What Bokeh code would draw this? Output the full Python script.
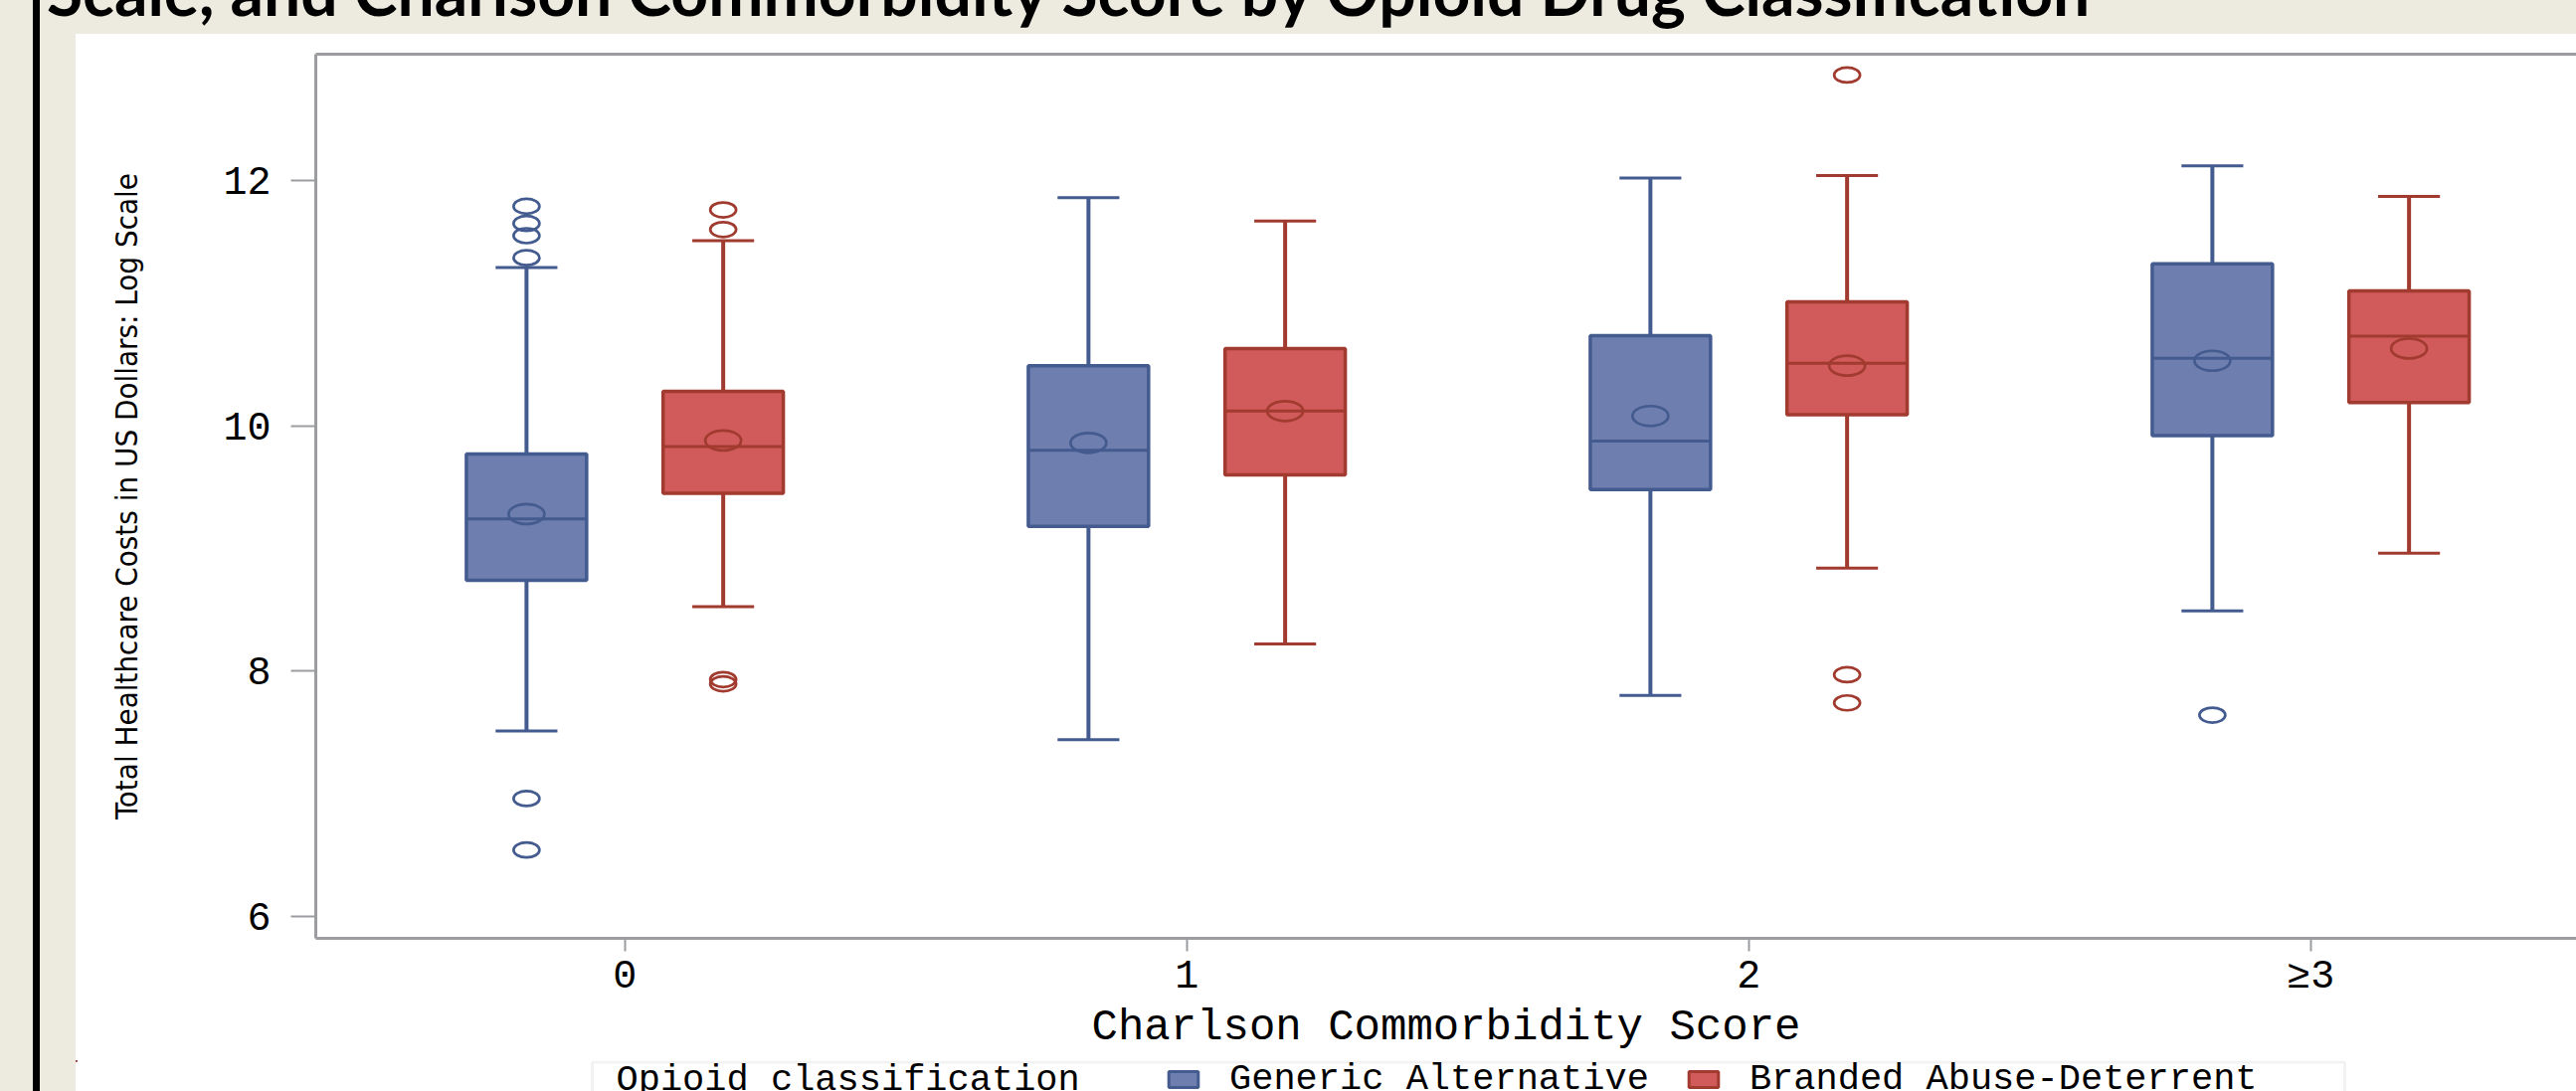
from bokeh.plotting import figure
from bokeh.layouts import column, row
from bokeh.models import (ColumnDataSource, Range1d, FixedTicker, LinearAxis,
                          BoxAnnotation, Label, Legend, LegendItem, Div)
from bokeh.transform import dodge
from bokeh.embed import file_html
from bokeh.resources import INLINE

# ---- data: log-scale total healthcare cost by Charlson score ----
categories = ["0", "1", "2", "≥3"]
series = ["Generic Alternative", "Branded Abuse-Deterrent"]

generic_low = [7.51, 7.44, 7.80, 8.49]
generic_q1 = [8.74, 9.18, 9.48, 9.92]
generic_median = [9.24, 9.80, 9.875, 10.55]
generic_q3 = [9.77, 10.49, 10.735, 11.32]
generic_high = [11.29, 11.86, 12.02, 12.12]
generic_mean = [9.28, 9.86, 10.08, 10.53]
generic_outlier_cat = [0, 0, 0, 0, 0, 0, 3]
generic_outlier_val = [11.79, 11.65, 11.55, 11.37, 6.96, 6.54, 7.64]

branded_low = [8.525, 8.22, 8.84, 8.96]
branded_q1 = [9.45, 9.60, 10.09, 10.19]
branded_median = [9.83, 10.12, 10.51, 10.73]
branded_q3 = [10.28, 10.63, 11.01, 11.10]
branded_high = [11.51, 11.67, 12.04, 11.87]
branded_mean = [9.88, 10.12, 10.49, 10.63]
branded_outlier_cat = [0, 0, 0, 0, 2, 2, 2]
branded_outlier_val = [11.76, 11.60, 7.93, 7.895, 12.86, 7.97, 7.74]

y_ticks = [6, 8, 10, 12]

title_text = "Scale, and Charlson Commorbidity Score by Opioid Drug Classification"
legend_title = "Opioid classification"

# ---- styling ----
BEIGE = "#EDEBE0"
GRAY = "#9B9DA0"
BLUE_FILL, BLUE_LINE = "#6E7EAE", "#445B8F"
RED_FILL, RED_LINE = "#D15A5B", "#A23B2F"
MONO = "Liberation Mono"

OFFSET = 0.175      # dodge of each series from the category centre
BOX_HALF = 0.107    # half box width
CAP_HALF = 0.055    # half whisker-cap width

PAGE_W, PAGE_H = 2590, 1097
TOP_H, LEFT_W = 34, 76          # slide margin above / left of the white panel
LEGEND_H = 31                   # strip holding the legend at the bottom
PANEL_W = PAGE_W - LEFT_W
MAIN_H = PAGE_H - TOP_H - LEGEND_H

p = figure(width=PANEL_W, height=MAIN_H, output_backend="svg", toolbar_location=None,
           x_range=Range1d(-0.55, 3.473), y_range=Range1d(5.82, 13.03),
           min_border_left=241, min_border_right=0, min_border_top=20,
           min_border_bottom=123, background_fill_color="white",
           border_fill_color="white", margin=0, frame_align=False)
p.outline_line_color = None
p.grid.grid_line_color = None

# axes
p.xaxis.ticker = FixedTicker(ticks=list(range(len(categories))))
p.xaxis.major_label_overrides = {i: c for i, c in enumerate(categories)}
p.yaxis.ticker = FixedTicker(ticks=y_ticks)
for ax in (p.xaxis[0], p.yaxis[0]):
    ax.axis_line_color = GRAY
    ax.axis_line_width = 3
    ax.major_tick_line_color = GRAY
    ax.major_tick_line_width = 2
    ax.minor_tick_line_color = None
    ax.major_tick_in = 0
    ax.major_label_text_font = MONO
    ax.major_label_text_font_size = "40px"
    ax.major_label_text_color = "black"
    ax.axis_label_text_font_style = "normal"
    ax.axis_label_text_color = "black"
p.yaxis.major_tick_out = 25
p.yaxis.major_label_standoff = 20
p.xaxis.major_tick_out = 13
p.xaxis.major_label_standoff = 3

p.xaxis.axis_label = "Charlson Commorbidity Score"
p.xaxis.axis_label_text_font = MONO
p.xaxis.axis_label_text_font_size = "44px"
p.xaxis.axis_label_standoff = 0

p.yaxis.axis_label = "Total Healthcare Costs in US Dollars: Log Scale"
p.yaxis.axis_label_text_font = "DejaVu Sans Condensed, Liberation Sans"
p.yaxis.axis_label_text_font_size = "31px"
p.yaxis.axis_label_standoff = 76

top_axis = LinearAxis(ticker=FixedTicker(ticks=[]), major_label_text_font_size="0px",
                      major_label_standoff=0, major_tick_out=0, major_tick_in=0,
                      axis_line_color=GRAY, axis_line_width=3,
                      major_tick_line_color=None, minor_tick_line_color=None)
p.add_layout(top_axis, "above")

# ---- legend strip: page pixel coordinates, y growing downwards ----
leg = figure(width=PANEL_W, height=LEGEND_H, output_backend="svg",
             toolbar_location=None, x_range=Range1d(LEFT_W, PAGE_W),
             y_range=Range1d(PAGE_H, PAGE_H - LEGEND_H), min_border=0,
             x_axis_location=None, y_axis_location=None,
             background_fill_color="white", border_fill_color="white", margin=0,
             frame_align=False)
leg.grid.grid_line_color = None
leg.outline_line_color = None


def draw_series(off, low, q1, med, q3, high, mean, out_cat, out_val, fill, line):
    src = ColumnDataSource(dict(x=list(range(len(categories))), low=low, q1=q1,
                                med=med, q3=q3, high=high, mean=mean))
    # whiskers
    p.segment(x0=dodge("x", off), x1=dodge("x", off), y0="q3", y1="high",
              source=src, line_color=line, line_width=4)
    p.segment(x0=dodge("x", off), x1=dodge("x", off), y0="low", y1="q1",
              source=src, line_color=line, line_width=4)
    # caps
    for key in ("high", "low"):
        p.segment(x0=dodge("x", off - CAP_HALF), x1=dodge("x", off + CAP_HALF),
                  y0=key, y1=key, source=src, line_color=line, line_width=3)
    # box
    p.vbar(x=dodge("x", off), width=2 * BOX_HALF, bottom="q1", top="q3",
           source=src, fill_color=fill, line_color=line, line_width=3.5)
    # median
    p.segment(x0=dodge("x", off - BOX_HALF), x1=dodge("x", off + BOX_HALF),
              y0="med", y1="med", source=src, line_color=line, line_width=3)
    # mean
    p.ellipse(x=dodge("x", off), y="mean", width=36, height=20,
              width_units="screen", height_units="screen", source=src,
              fill_color=None, line_color=line, line_width=2.7)
    # outliers
    osrc = ColumnDataSource(dict(x=out_cat, y=out_val))
    p.ellipse(x=dodge("x", off), y="y", width=26, height=15,
              width_units="screen", height_units="screen", source=osrc,
              fill_color=None, line_color=line, line_width=2.7)
    # same boxes in the legend strip (they fall outside its range) to key the legend
    return leg.vbar(x="x", width=2 * BOX_HALF, bottom="q1", top="q3", source=src,
                    fill_color=fill, line_color=line, line_width=3)


key_g = draw_series(-OFFSET, generic_low, generic_q1, generic_median, generic_q3,
                    generic_high, generic_mean, generic_outlier_cat,
                    generic_outlier_val, BLUE_FILL, BLUE_LINE)
key_b = draw_series(OFFSET, branded_low, branded_q1, branded_median, branded_q3,
                    branded_high, branded_mean, branded_outlier_cat,
                    branded_outlier_val, RED_FILL, RED_LINE)

legend = Legend(items=[LegendItem(label=series[0], renderers=[key_g]),
                       LegendItem(label=series[1], renderers=[key_b])],
                location=(1171 - LEFT_W, -9), orientation="horizontal",
                glyph_width=37, glyph_height=20, label_standoff=28, spacing=36,
                label_height=42, padding=0, margin=0, border_line_color=None,
                background_fill_alpha=0, label_text_font=MONO,
                label_text_font_size="37px", label_text_color="black")
leg.add_layout(legend)

leg.add_layout(BoxAnnotation(left=595, right=2357, top=1067.5, bottom=1130,
                             fill_alpha=0, line_color="#D3D3D3", line_width=3))
leg.add_layout(Label(x=619, y=1085, text=legend_title, text_baseline="middle",
                     text_font=MONO, text_font_size="37px", text_color="black"))

# ---- slide chrome: beige margins with a dark rule, bold title ----
rule_bg = ("linear-gradient(to right, %s 0px, %s 33px, #000 33px, #000 40px, "
           "%s 40px)" % (BEIGE, BEIGE, BEIGE))
title_html = ('<div style="position:relative;width:%dpx;height:%dpx;overflow:hidden">'
              '<div style="position:absolute;left:47px;top:-42px;white-space:nowrap;'
              'font-family:Lato;font-weight:bold;font-size:66px;line-height:1;'
              'color:#000">%s</div></div>' % (PAGE_W, TOP_H, title_text))
top = Div(text=title_html, width=PAGE_W, height=TOP_H, margin=0,
          styles={"background": rule_bg, "overflow": "hidden"})
left = Div(text="", width=LEFT_W, height=PAGE_H - TOP_H, margin=0,
           styles={"background": rule_bg})

page = column(top, row(left, column(p, leg, spacing=0), spacing=0), spacing=0)

open("out.html", "w").write(file_html(page, INLINE))
